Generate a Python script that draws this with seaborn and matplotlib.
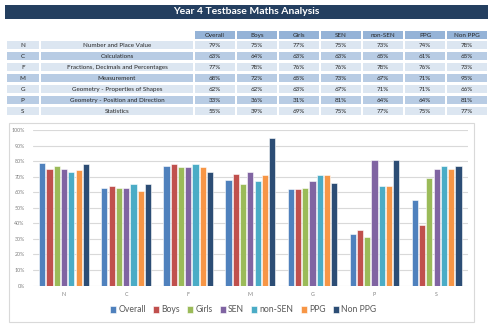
import matplotlib
matplotlib.use("Agg")
import matplotlib.pyplot as plt
from matplotlib.patches import Rectangle
import seaborn as sns
import pandas as pd

# ---------------- data ----------------
codes = ["N", "C", "F", "M", "G", "P", "S"]
areas = ["Number and Place Value", "Calculations",
         "Fractions, Decimals and Percentages", "Measurement",
         "Geometry - Properties of Shapes", "Geometry - Position and Direction",
         "Statistics"]
groups = ["Overall", "Boys", "Girls", "SEN", "non-SEN", "PPG", "Non PPG"]
overall = [79, 63, 77, 68, 62, 33, 55]
boys    = [75, 64, 78, 72, 62, 36, 39]
girls   = [77, 63, 76, 65, 63, 31, 69]
sen     = [75, 63, 76, 73, 67, 81, 75]
non_sen = [73, 65, 78, 67, 71, 64, 77]
ppg     = [74, 61, 76, 71, 71, 64, 75]
non_ppg = [78, 65, 73, 95, 66, 81, 77]
yticks = [0, 10, 20, 30, 40, 50, 60, 70, 80, 90, 100]

series = [overall, boys, girls, sen, non_sen, ppg, non_ppg]
colors = ["#4F81BD", "#C0504D", "#9BBB59", "#8064A2", "#4BACC6", "#F79646", "#2C4D75"]

rows = []
for g, vals in zip(groups, series):
    for c, v in zip(codes, vals):
        rows.append({"code": c, "group": g, "value": v})
df = pd.DataFrame(rows)

# ---------------- figure ----------------
sns.set_style("white")
plt.rcParams["font.family"] = ["Lato", "DejaVu Sans"]
W, H = 500, 334
fig = plt.figure(figsize=(W / 100, H / 100), dpi=100)

# overlay axes in pixel coordinates
ov = fig.add_axes([0, 0, 1, 1])
ov.set_xlim(0, W)
ov.set_ylim(H, 0)
ov.axis("off")

# title bar
ov.add_patch(Rectangle((5, 5), 483, 13.5, facecolor="#243F60", edgecolor="none"))
ov.text(246.5, 11.8, "Year 4 Testbase Maths Analysis", color="white",
        fontsize=7.5, fontweight="bold", ha="center", va="center")

# table
col_x = [195 + i * 42 for i in range(7)]
col_w = 40
hdr_col = "#95B3D7"
light = "#DCE6F1"
dark = "#B8CCE4"
txt_col = "#262626"
for i, g in enumerate(groups):
    ov.add_patch(Rectangle((col_x[i], 31), col_w, 8, facecolor=hdr_col, edgecolor="none"))
    ov.text(col_x[i] + col_w / 2, 35.2, g, fontsize=4.5, ha="center", va="center", color=txt_col)

for r, (c, a) in enumerate(zip(codes, areas)):
    y0 = 40.7 + r * 11
    fc = light if r % 2 == 0 else dark
    ov.add_patch(Rectangle((6.5, y0), 32.5, 8.6, facecolor=fc, edgecolor="none"))
    ov.add_patch(Rectangle((41, y0), 152, 8.6, facecolor=fc, edgecolor="none"))
    ov.text(22.7, y0 + 4.5, c, fontsize=4.5, ha="center", va="center", color=txt_col)
    ov.text(117, y0 + 4.5, a, fontsize=4.5, ha="center", va="center", color=txt_col)
    for i, vals in enumerate(series):
        ov.add_patch(Rectangle((col_x[i], y0), col_w, 8.6, facecolor=fc, edgecolor="none"))
        ov.text(col_x[i] + col_w / 2, y0 + 4.5, f"{vals[r]}%", fontsize=4.5,
                ha="center", va="center", color=txt_col)

# chart box
ov.add_patch(Rectangle((9, 122.7), 465, 199, facecolor="white",
                       edgecolor="#D9D9D9", linewidth=0.8))

# chart axes
left, right = 33, 467.7
top, bottom = 130, 285.5
ax = fig.add_axes([left / W, 1 - bottom / H, (right - left) / W, (bottom - top) / H])
ax.set_zorder(2)
ax.patch.set_alpha(0)

sns.barplot(data=df, x="code", y="value", hue="group", order=codes,
            hue_order=groups, palette=colors, width=0.82, gap=0.15,
            saturation=1, ax=ax, legend=True, edgecolor="white", linewidth=0.4)

ax.set_ylim(0, 100)
ax.set_xlim(-0.5, len(codes) - 0.5)
ax.set_yticks(yticks)
ax.set_yticklabels([f"{t}%" for t in yticks])
ax.yaxis.grid(True, color="#D9D9D9", linewidth=0.8)
ax.set_axisbelow(True)
for s in ax.spines.values():
    s.set_visible(False)
ax.tick_params(axis="both", length=0, labelsize=3.8, labelcolor="#7F7F7F")
ax.tick_params(axis="y", pad=6)
ax.tick_params(axis="x", pad=5)
ax.set_xlabel("")
ax.set_ylabel("")

handles, labels = ax.get_legend_handles_labels()
ax.legend(handles, labels, ncol=7, loc="center",
          bbox_to_anchor=((243) / W, 1 - 310 / H), bbox_transform=fig.transFigure,
          frameon=False, fontsize=6.2, handlelength=0.7, handleheight=0.7,
          handletextpad=0.3, columnspacing=0.8, labelcolor="#595959")

fig.savefig("out.png", dpi=100)
